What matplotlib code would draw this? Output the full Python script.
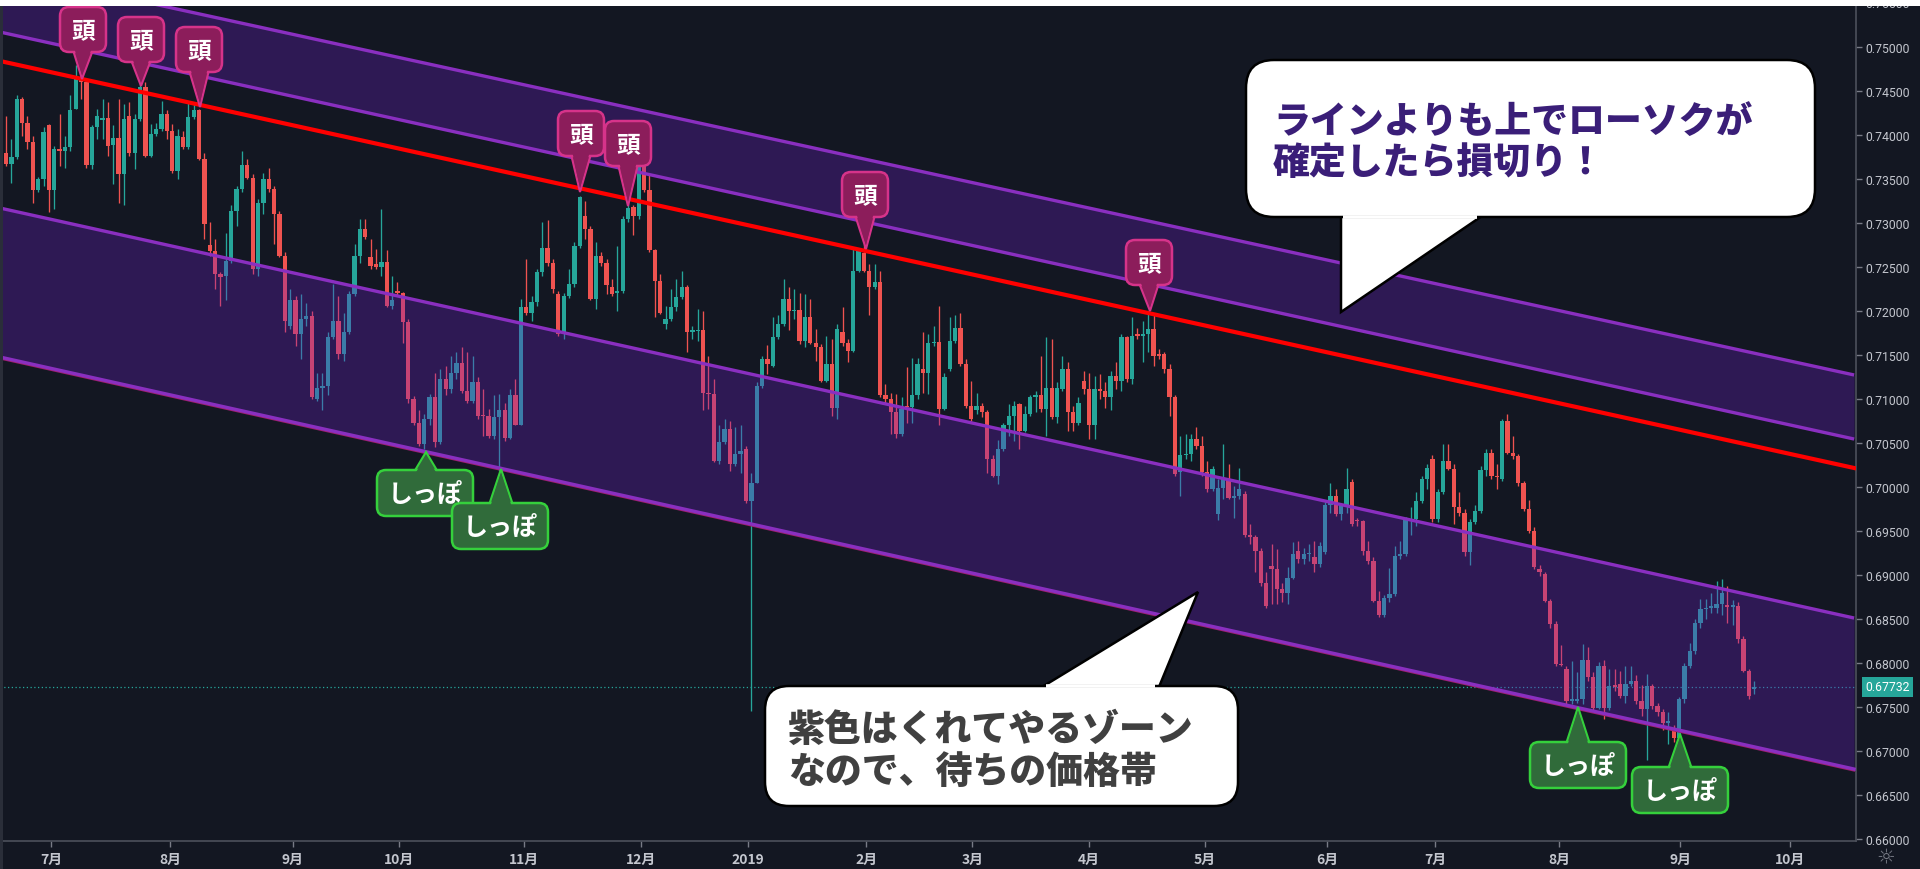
import numpy as np
import matplotlib
matplotlib.use("Agg")
import matplotlib.pyplot as plt
from matplotlib.patches import FancyBboxPatch, Polygon, Rectangle
from matplotlib.transforms import blended_transform_factory

# ---------------- data (AUD/USD daily) ----------------
opens = [
 .7380,.7367,.7375,.7441,.7414,.7392,.7337,.7350,.7411,.7337,
 .7384,.7382,.7386,.7430,.7464,.7460,.7366,.7409,.7417,.7419,
 .7389,.7397,.7356,.7422,.7380,.7418,.7454,.7376,.7401,.7407,
 .7424,.7404,.7359,.7398,.7386,.7420,.7428,.7373,.7275,.7268,
 .7242,.7240,.7257,.7314,.7339,.7366,.7351,.7248,.7323,.7350,
 .7339,.7310,.7263,.7183,.7213,.7174,.7191,.7194,.7100,.7113,
 .7115,.7170,.7189,.7151,.7176,.7219,.7263,.7293,.7261,.7253,
 .7250,.7256,.7206,.7223,.7220,.7188,.7100,.7073,.7049,.7077,
 .7102,.7051,.7123,.7111,.7130,.7141,.7109,.7098,.7119,.7082,
 .7081,.7058,.7079,.7087,.7056,.7104,.7071,.7204,.7198,.7210,
 .7244,.7272,.7255,.7219,.7174,.7217,.7231,.7274,.7308,.7293,
 .7214,.7263,.7255,.7227,.7220,.7223,.7305,.7318,.7308,.7365,
 .7337,.7269,.7234,.7185,.7191,.7204,.7216,.7227,.7176,.7177,
 .7178,.7107,.7106,.7030,.7051,.7066,.7026,.7037,.7043,.6984,
 .7005,.7115,.7145,.7138,.7170,.7185,.7214,.7200,.7201,.7166,
 .7193,.7164,.7159,.7121,.7140,.7090,.7176,.7164,.7155,.7246,
 .7266,.7246,.7227,.7233,.7104,.7100,.7085,.7060,.7092,.7091,
 .7104,.7134,.7130,.7164,.7165,.7089,.7134,.7166,.7181,.7140,
 .7092,.7087,.7092,.7085,.7032,.7013,.7043,.7070,.7081,.7094,
 .7064,.7083,.7102,.7104,.7089,.7113,.7079,.7111,.7134,.7085,
 .7073,.7121,.7111,.7070,.7111,.7109,.7102,.7126,.7121,.7170,
 .7123,.7174,.7172,.7174,.7180,.7151,.7151,.7134,.7102,.7017,
 .7036,.7037,.7054,.7047,.7017,.6998,.6969,.6999,.7009,.6988,
 .6990,.6992,.6945,.6943,.6927,.6891,.6910,.6907,.6884,.6880,
 .6897,.6927,.6918,.6924,.6920,.6912,.6926,.6979,.6990,.6969,
 .6979,.7006,.6962,.6961,.6927,.6916,.6871,.6854,.6874,.6878,
 .6922,.6924,.6962,.6964,.6984,.7009,.7032,.6964,.6994,.7029,
 .7020,.6977,.6971,.6926,.6960,.6973,.7019,.7039,.7013,.7009,
 .7075,.7039,.7035,.7005,.6975,.6950,.6907,.6901,.6871,.6844,
 .6799,.6793,.6757,.6757,.6759,.6803,.6784,.6749,.6797,.6749,
 .6775,.6776,.6763,.6776,.6780,.6757,.6748,.6774,.6751,.6744,
 .6732,.6725,.6715,.6759,.6797,.6814,.6846,.6861,.6863,.6863,
 .6867,.6866,.6864,.6865,.6827,.6791,.6770]
highs = [
 .7422,.7395,.7445,.7443,.7422,.7399,.7352,.7409,.7413,.7388,
 .7424,.7399,.7445,.7479,.7471,.7462,.7411,.7429,.7441,.7437,
 .7411,.7441,.7435,.7437,.7424,.7462,.7460,.7412,.7414,.7439,
 .7428,.7412,.7407,.7405,.7439,.7437,.7430,.7380,.7301,.7282,
 .7244,.7289,.7320,.7342,.7382,.7373,.7356,.7327,.7357,.7363,
 .7342,.7314,.7267,.7225,.7217,.7219,.7209,.7200,.7130,.7130,
 .7176,.7231,.7217,.7198,.7223,.7276,.7305,.7305,.7282,.7270,
 .7316,.7269,.7240,.7233,.7222,.7191,.7103,.7087,.7083,.7106,
 .7130,.7134,.7138,.7149,.7153,.7159,.7153,.7149,.7125,.7111,
 .7089,.7104,.7106,.7096,.7111,.7123,.7214,.7259,.7217,.7248,
 .7301,.7303,.7259,.7223,.7221,.7248,.7278,.7331,.7325,.7297,
 .7278,.7267,.7259,.7236,.7274,.7308,.7327,.7320,.7380,.7373,
 .7354,.7270,.7242,.7206,.7225,.7236,.7246,.7229,.7183,.7202,
 .7200,.7149,.7123,.7070,.7077,.7075,.7068,.7070,.7047,.7016,
 .7119,.7149,.7161,.7193,.7195,.7236,.7227,.7225,.7221,.7219,
 .7214,.7180,.7162,.7172,.7168,.7185,.7204,.7168,.7270,.7272,
 .7276,.7253,.7253,.7246,.7117,.7107,.7106,.7102,.7136,.7147,
 .7147,.7176,.7174,.7183,.7206,.7130,.7193,.7195,.7198,.7145,
 .7121,.7107,.7096,.7087,.7036,.7053,.7073,.7094,.7098,.7096,
 .7092,.7104,.7109,.7149,.7170,.7168,.7119,.7149,.7142,.7092,
 .7102,.7132,.7130,.7126,.7128,.7119,.7132,.7142,.7174,.7172,
 .7193,.7181,.7189,.7200,.7198,.7157,.7153,.7140,.7104,.7058,
 .7060,.7060,.7068,.7058,.7030,.7024,.7009,.7049,.7026,.7001,
 .7022,.6996,.6958,.6945,.6931,.6903,.6935,.6929,.6891,.6909,
 .6937,.6939,.6931,.6935,.6939,.6937,.6983,.7005,.6998,.6982,
 .7022,.7009,.6965,.6963,.6939,.6920,.6882,.6877,.6908,.6933,
 .6939,.6966,.6977,.6994,.7013,.7026,.7036,.6998,.7049,.7049,
 .7026,.6994,.6975,.6964,.6980,.7024,.7043,.7043,.7026,.7077,
 .7083,.7058,.7037,.7007,.6985,.6954,.6911,.6903,.6873,.6848,
 .6820,.6797,.6802,.6790,.6822,.6818,.6790,.6801,.6803,.6793,
 .6793,.6791,.6797,.6797,.6786,.6775,.6787,.6776,.6755,.6748,
 .6744,.6729,.6761,.6800,.6823,.6850,.6873,.6873,.6880,.6893,
 .6895,.6888,.6872,.6869,.6831,.6793,.6780]
lows = [
 .7365,.7346,.7373,.7399,.7384,.7323,.7335,.7342,.7312,.7316,
 .7365,.7363,.7382,.7429,.7441,.7363,.7361,.7395,.7395,.7376,
 .7344,.7323,.7320,.7376,.7361,.7416,.7375,.7375,.7399,.7405,
 .7395,.7357,.7350,.7384,.7384,.7418,.7372,.7282,.7263,.7225,
 .7206,.7213,.7255,.7297,.7335,.7350,.7242,.7240,.7310,.7335,
 .7276,.7261,.7176,.7179,.7160,.7145,.7183,.7100,.7098,.7088,
 .7104,.7168,.7145,.7143,.7174,.7217,.7255,.7282,.7248,.7248,
 .7240,.7204,.7202,.7217,.7164,.7096,.7071,.7047,.7043,.7070,
 .7045,.7049,.7104,.7107,.7123,.7107,.7096,.7096,.7077,.7058,
 .7056,.7054,.7018,.7052,.7054,.7070,.7070,.7195,.7189,.7206,
 .7240,.7251,.7221,.7172,.7168,.7215,.7227,.7272,.7282,.7212,
 .7202,.7251,.7219,.7217,.7200,.7221,.7301,.7286,.7305,.7335,
 .7267,.7193,.7197,.7180,.7189,.7200,.7214,.7153,.7168,.7166,
 .7088,.7089,.7028,.7026,.7049,.7018,.7024,.7016,.6982,.6746,
 .7004,.7113,.7128,.7136,.7168,.7183,.7178,.7191,.7162,.7159,
 .7162,.7143,.7119,.7119,.7081,.7077,.7160,.7142,.7153,.7244,
 .7244,.7195,.7225,.7102,.7096,.7060,.7056,.7058,.7073,.7073,
 .7100,.7107,.7106,.7160,.7071,.7087,.7132,.7164,.7138,.7090,
 .7075,.7083,.7079,.7016,.7011,.7003,.7041,.7058,.7052,.7043,
 .7062,.7081,.7085,.7085,.7058,.7077,.7073,.7109,.7064,.7064,
 .7071,.7106,.7054,.7054,.7100,.7090,.7088,.7111,.7109,.7119,
 .7117,.7168,.7142,.7153,.7138,.7145,.7130,.7081,.7013,.6990,
 .7032,.7030,.7043,.7013,.6994,.6996,.6963,.6986,.6986,.6965,
 .6986,.6943,.6935,.6903,.6888,.6863,.6867,.6867,.6869,.6867,
 .6895,.6914,.6912,.6916,.6903,.6909,.6924,.6971,.6967,.6963,
 .6971,.6956,.6956,.6923,.6912,.6869,.6852,.6852,.6869,.6876,
 .6918,.6922,.6945,.6956,.6982,.6998,.6960,.6960,.6992,.7019,
 .6958,.6967,.6922,.6911,.6958,.6971,.7013,.7009,.6998,.7007,
 .7037,.7032,.7001,.6973,.6948,.6907,.6899,.6869,.6840,.6797,
 .6797,.6753,.6753,.6754,.6753,.6780,.6744,.6748,.6736,.6747,
 .6768,.6760,.6755,.6774,.6753,.6740,.6690,.6748,.6740,.6724,
 .6708,.6710,.6713,.6755,.6794,.6810,.6840,.6850,.6857,.6857,
 .6855,.6846,.6843,.6823,.6790,.6759,.6765]
closes = [
 .7367,.7375,.7441,.7414,.7392,.7337,.7350,.7403,.7337,.7384,
 .7382,.7386,.7428,.7464,.7460,.7366,.7409,.7422,.7419,.7388,
 .7397,.7356,.7418,.7380,.7418,.7454,.7376,.7401,.7407,.7424,
 .7404,.7359,.7399,.7386,.7420,.7428,.7373,.7299,.7268,.7242,
 .7239,.7257,.7314,.7339,.7366,.7351,.7248,.7323,.7350,.7339,
 .7310,.7263,.7189,.7213,.7174,.7191,.7194,.7102,.7113,.7115,
 .7170,.7189,.7151,.7176,.7219,.7263,.7293,.7284,.7251,.7250,
 .7256,.7206,.7212,.7220,.7188,.7100,.7073,.7049,.7077,.7102,
 .7051,.7123,.7111,.7130,.7141,.7109,.7098,.7119,.7081,.7081,
 .7058,.7079,.7087,.7056,.7104,.7071,.7204,.7198,.7210,.7244,
 .7272,.7255,.7225,.7174,.7217,.7231,.7274,.7329,.7293,.7214,
 .7263,.7255,.7229,.7219,.7223,.7305,.7317,.7308,.7365,.7337,
 .7269,.7234,.7198,.7191,.7204,.7216,.7227,.7176,.7178,.7178,
 .7107,.7106,.7030,.7051,.7066,.7026,.7037,.7041,.6984,.7005,
 .7115,.7145,.7140,.7170,.7185,.7214,.7200,.7201,.7166,.7193,
 .7164,.7159,.7121,.7140,.7090,.7179,.7164,.7155,.7246,.7270,
 .7246,.7227,.7233,.7104,.7100,.7085,.7060,.7089,.7091,.7104,
 .7140,.7130,.7164,.7165,.7089,.7125,.7166,.7181,.7140,.7092,
 .7077,.7092,.7085,.7032,.7013,.7043,.7070,.7081,.7092,.7064,
 .7083,.7102,.7104,.7089,.7113,.7079,.7113,.7134,.7085,.7073,
 .7096,.7111,.7070,.7111,.7109,.7102,.7126,.7121,.7170,.7123,
 .7172,.7172,.7174,.7180,.7149,.7149,.7134,.7102,.7015,.7036,
 .7037,.7054,.7047,.7017,.6998,.7020,.6999,.7009,.6988,.6990,
 .6998,.6945,.6943,.6927,.6891,.6865,.6907,.6884,.6880,.6897,
 .6924,.6918,.6924,.6925,.6912,.6933,.6979,.6990,.6969,.6979,
 .6998,.6958,.6961,.6927,.6916,.6871,.6854,.6874,.6878,.6922,
 .6924,.6963,.6964,.6984,.7009,.7022,.6964,.6994,.7029,.7020,
 .6977,.6971,.6926,.6960,.6973,.7019,.7039,.7013,.7011,.7075,
 .7039,.7035,.7005,.6975,.6950,.6909,.6903,.6871,.6844,.6799,
 .6798,.6757,.6759,.6759,.6803,.6784,.6749,.6797,.6749,.6774,
 .6773,.6763,.6776,.6780,.6757,.6748,.6774,.6751,.6744,.6732,
 .6734,.6715,.6759,.6797,.6814,.6846,.6861,.6863,.6864,.6867,
 .6880,.6864,.6866,.6827,.6791,.6763,.67732]

month_labels = ["7月", "8月", "9月", "10月", "11月", "12月", "2019", "2月",
                "3月", "4月", "5月", "6月", "7月", "8月", "9月", "10月"]
month_pos = [8.4, 30.6, 53.5, 73.3, 96.6, 118.4, 138.4, 160.4,
             180.2, 202.0, 223.6, 246.4, 266.5, 289.6, 312.2, 332.7]
price_ticks = [0.660, 0.665, 0.670, 0.675, 0.680, 0.685, 0.690, 0.695, 0.700,
               0.705, 0.710, 0.715, 0.720, 0.725, 0.730, 0.735, 0.740,
               0.745, 0.750]

# channel lines (price at the left and right edge of the drawing)
chan_x = [-1.12, 344.65]
upper_band_top = [0.75870, 0.71273]
upper_band_bot = [0.75170, 0.70545]
stop_line = [0.74841, 0.70216]
lower_band_top = [0.73170, 0.68511]
lower_band_bot = [0.71477, 0.66795]

bubble1_lines = ["ラインよりも上でローソクが", "確定したら損切り！"]
bubble2_lines = ["紫色はくれてやるゾーン", "なので、待ちの価格帯"]

# ---------------- styling ----------------
BG = "#131722"
UP = "#26a69a"
DOWN = "#ef5350"
JP = ["Noto Sans CJK JP", "DejaVu Sans"]

o = np.array(opens); h = np.array(highs); l = np.array(lows); c = np.array(closes)
assert len(o) == len(h) == len(l) == len(c)
h = np.maximum(h, np.maximum(o, c)); l = np.minimum(l, np.minimum(o, c))
idx = np.arange(len(c))

fig = plt.figure(figsize=(19.2, 8.7), dpi=100, facecolor=BG)
ax = fig.add_axes([0, 28/870, 1856/1920, 836/870])
ax.set_facecolor(BG)
ax.set_xlim(-1.12, 345.0)
ax.set_ylim(0.659773, 0.754773)

# candles
col = np.where(c >= o, UP, DOWN)
ax.vlines(idx, l, h, colors=col, linewidth=0.95, zorder=2)
body_bot = np.minimum(o, c)
body_h = np.maximum(np.abs(c - o), 0.00013)
ax.bar(idx, body_h, bottom=body_bot, width=0.8, color=col, linewidth=0, zorder=2)

# last price dotted line
last = c[-1]
ax.axhline(last, color=UP, lw=0.9, ls=(0, (1, 2)), zorder=1.5)

# purple bands
PURPLE_FILL = "#6d1ec9"
PURPLE_LINE = "#8a2fc0"
ax.fill_between(chan_x, upper_band_bot, upper_band_top, color=PURPLE_FILL, alpha=0.30, lw=0, zorder=3)
ax.fill_between(chan_x, lower_band_bot, lower_band_top, color=PURPLE_FILL, alpha=0.30, lw=0, zorder=3)
for ln in (upper_band_top, upper_band_bot, lower_band_top):
    ax.plot(chan_x, ln, color=PURPLE_LINE, lw=2.4, zorder=4, solid_capstyle="butt")
ax.plot(chan_x, np.array(lower_band_bot) - 0.00018, color="#a0206e", lw=1.4, zorder=4)
ax.plot(chan_x, lower_band_bot, color=PURPLE_LINE, lw=2.4, zorder=4)
ax.plot(chan_x, stop_line, color="#ff0000", lw=3.0, zorder=4)

# axes styling
for s in ("top", "left"):
    ax.spines[s].set_visible(False)
for s in ("right", "bottom"):
    ax.spines[s].set_color("#4c505b")
    ax.spines[s].set_linewidth(1.2)
ax.yaxis.tick_right()
ax.set_yticks(price_ticks)
ax.set_yticklabels([f"{p:.5f}" for p in price_ticks])
ax.tick_params(axis="y", colors="#787b86", labelcolor="#c3c6ce", length=4, width=1,
               pad=3, labelsize=8.8)
for t in ax.get_yticklabels():
    t.set_family("Roboto")
ax.set_xticks(month_pos)
ax.set_xticklabels(month_labels)
ax.tick_params(axis="x", colors="#787b86", labelcolor="#c3c6ce", length=4, width=1,
               pad=4, labelsize=10)
for t in ax.get_xticklabels():
    t.set_family(JP)
    t.set_weight("bold")
ax.grid(False)

# partially hidden top price label and current price label
tr = blended_transform_factory(ax.transAxes, ax.transData)
ax.text(1.0049, 0.755, "0.75500", transform=tr, ha="left", va="center",
        fontsize=8.8, family="Roboto", color="#c3c6ce", clip_on=False)
ax.text(1.0049, last, f"{last:.5f}", transform=tr, ha="left", va="center",
        fontsize=8.8, family="Roboto", color="white", clip_on=False, zorder=6,
        bbox=dict(boxstyle="square,pad=0.28", fc=UP, ec="none"))

# ---------------- overlay (pixel space) ----------------
ov = fig.add_axes([0, 0, 1, 1], zorder=10)
ov.set_xlim(0, 1920); ov.set_ylim(870, 0); ov.axis("off"); ov.patch.set_alpha(0)

ov.add_patch(Rectangle((0, 0), 1920, 6.5, fc="white", ec="none", zorder=20))
ov.add_patch(Rectangle((0, 6.5), 3, 870, fc="#2a2e39", ec="none", zorder=20))
ov.text(1886, 857, "☼", family="DejaVu Sans", fontsize=15, color="#787b86",
        ha="center", va="center")


def head(x0, top, tipx, tipy, w=46, hgt=45):
    fc, ec = "#8c1d5b", "#d6338a"
    cx = x0 + w / 2
    bot = top + hgt
    ov.add_patch(Polygon([(cx - 10, bot - 2), (cx + 10, bot - 2), (tipx, tipy)],
                         closed=True, fc=fc, ec=ec, lw=1.5, zorder=5))
    ov.add_patch(FancyBboxPatch((x0, top), w, hgt, boxstyle="round,pad=0,rounding_size=9",
                                fc=fc, ec=ec, lw=1.8, zorder=6))
    ov.add_patch(Polygon([(cx - 8.5, bot - 3), (cx + 8.5, bot - 3), (tipx, tipy - 4)],
                         closed=True, fc=fc, ec="none", zorder=7))
    ov.text(cx, top + hgt / 2 + 1, "頭", color="white", fontsize=17, weight="bold",
            family=JP, ha="center", va="center", zorder=8)


def tail_label(x0, top, tipx, tipy, w=96, hgt=46):
    fc, ec = "#306b3a", "#35d03c"
    cx = x0 + w / 2
    ov.add_patch(Polygon([(tipx - 12, top + 2), (tipx + 12, top + 2), (tipx, tipy)],
                         closed=True, fc=fc, ec=ec, lw=1.5, zorder=5))
    ov.add_patch(FancyBboxPatch((x0, top), w, hgt, boxstyle="round,pad=0,rounding_size=9",
                                fc=fc, ec=ec, lw=1.8, zorder=6))
    ov.add_patch(Polygon([(tipx - 10.5, top + 3), (tipx + 10.5, top + 3), (tipx, tipy + 4)],
                         closed=True, fc=fc, ec="none", zorder=7))
    ov.text(cx, top + hgt / 2 + 1, "しっぽ", color="white", fontsize=18, weight="bold",
            family=JP, ha="center", va="center", zorder=8)


for args in [(60, 8, 82, 80), (118, 18, 141, 87), (176, 28, 200, 108),
             (558, 112, 580, 193), (605, 122, 628, 207), (842, 173, 866, 250),
             (1126, 241, 1150, 312)]:
    head(*args)

for args in [(377, 471, 426, 453), (452, 504, 501, 470),
             (1530, 743, 1578, 708), (1632, 768, 1680, 735)]:
    tail_label(*args)


def bubble(x0, y0, w, hgt, r, tail, seam, lines, color, tx, ty, dy):
    ov.add_patch(Polygon(tail, closed=True, fc="white", ec="black", lw=1.8, zorder=11,
                         joinstyle="miter"))
    ov.add_patch(FancyBboxPatch((x0, y0), w, hgt, boxstyle=f"round,pad=0,rounding_size={r}",
                                fc="white", ec="black", lw=1.8, zorder=12))
    ov.plot(seam[0], seam[1], color="white", lw=2.6, zorder=13, solid_capstyle="butt")
    for i, s in enumerate(lines):
        ov.text(tx, ty + i * dy, s, color=color, fontsize=26.6, weight="heavy",
                family=JP, ha="left", va="center", zorder=14)


bubble(1246, 61, 569, 157, 28,
       [(1341, 217), (1341, 313), (1482, 217)],
       ([1342.5, 1477], [218, 218]),
       bubble1_lines, "#3a1e78", 1273, 122, 41)
bubble(765, 687, 473, 120, 24,
       [(1042, 688), (1198, 593), (1159, 688)],
       ([1046, 1155], [687, 687]),
       bubble2_lines, "#404040", 788, 730, 42)

fig.savefig("out.png", dpi=100, facecolor=BG)
